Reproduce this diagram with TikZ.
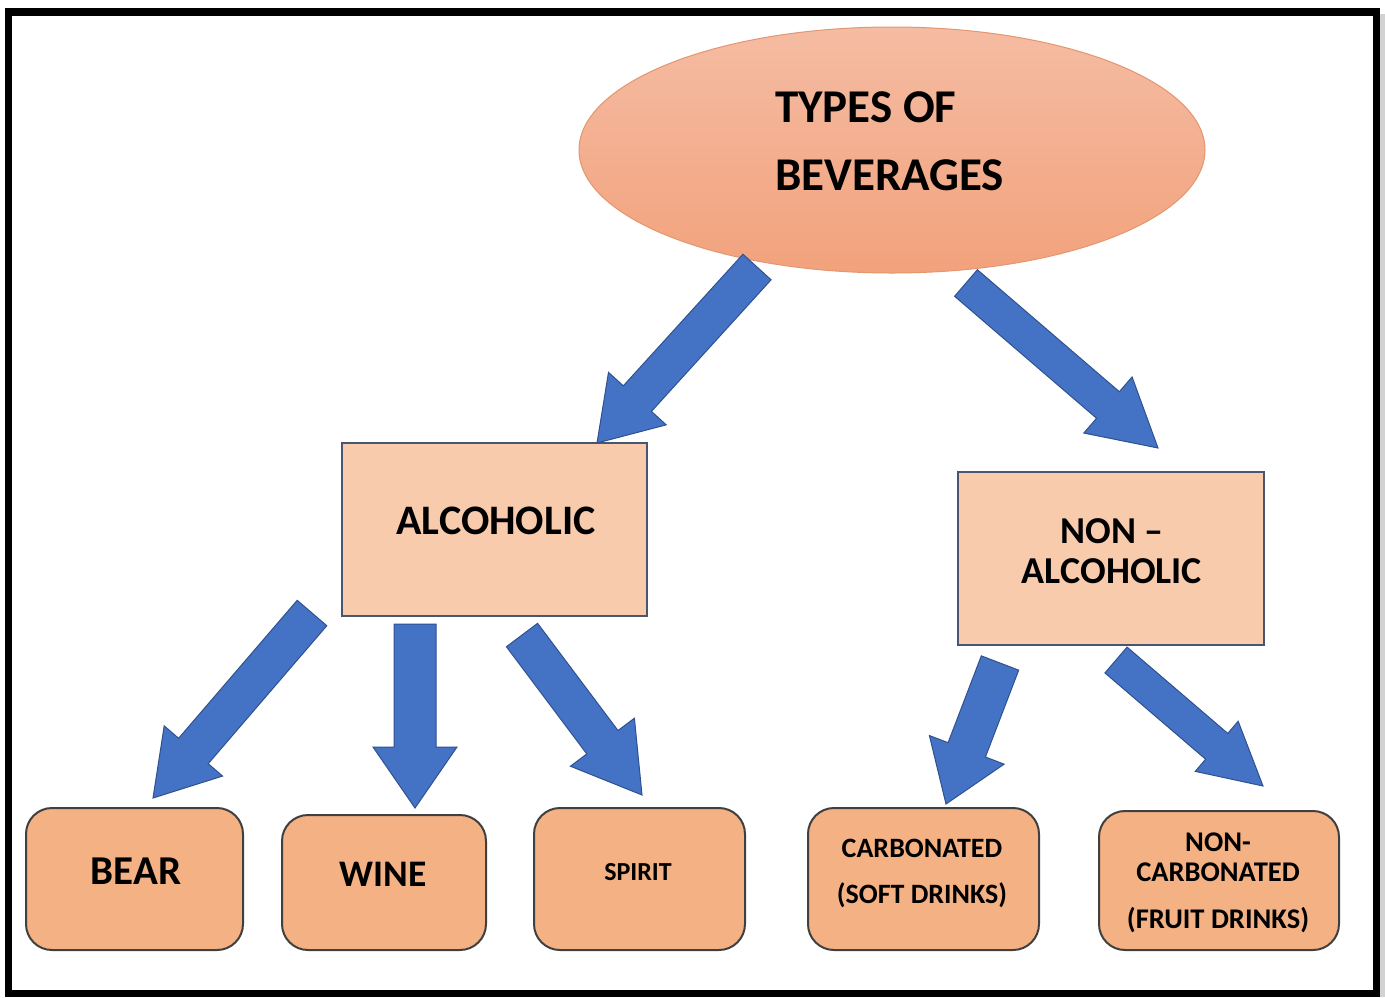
\documentclass[tikz,border=0pt]{standalone}
\usepackage{fontspec}
\setmainfont{Carlito}
\usetikzlibrary{calc,shapes.geometric}
\definecolor{arrowfill}{HTML}{4472C4}
\definecolor{arrowline}{HTML}{2F528F}
\definecolor{midfill}{HTML}{F8CBAD}
\definecolor{midline}{HTML}{4A5670}
\definecolor{leaffill}{HTML}{F4B183}
\definecolor{leafline}{HTML}{404040}
\definecolor{elltop}{HTML}{F5BCA3}
\definecolor{ellbot}{HTML}{F2A27C}
\definecolor{ellline}{HTML}{E39670}
\newcommand{\fsz}[1]{\fontsize{#1}{#1}\selectfont\bfseries}
\newcommand{\barrow}[5]{%
  \coordinate (tmpH) at ($(#2)!#5pt!(#1)$);
  \draw[blockarrow] ($(#1)!#3pt!90:(#2)$) -- ($(tmpH)!#3pt!90:(#2)$) -- ($(tmpH)!#4pt!90:(#2)$) -- (#2)
     -- ($(tmpH)!#4pt!-90:(#2)$) -- ($(tmpH)!#3pt!-90:(#2)$) -- ($(#1)!#3pt!-90:(#2)$) -- cycle;}
\tikzset{
  blockarrow/.style={fill=arrowfill, draw=arrowline, line width=1pt, line join=miter},
  midbox/.style={rectangle, fill=midfill, draw=midline, line width=2pt, inner sep=0pt, outer sep=0pt},
  leafbox/.style={rectangle, rounded corners=26pt, fill=leaffill, draw=leafline, line width=2pt, inner sep=0pt, outer sep=0pt},
  lbl/.style={inner sep=0pt, outer sep=0pt, text=black},
}
\begin{document}
\begin{tikzpicture}[x=1pt, y=-1pt]
\useasboundingbox (0,0) rectangle (1385,997);
\fill[white] (0,0) rectangle (1385,997);
% frame
\fill[gray!35] (1380,14) rectangle (1385,997);
\draw[line width=7.5pt, black] (8.5,12) rectangle (1376.5,993.5);

% root ellipse
\node[ellipse, minimum width=626pt, minimum height=246pt, inner sep=0pt,
      top color=elltop, bottom color=ellbot, draw=ellline, line width=1pt] (root) at (892,150) {};
\node[lbl, anchor=base west, font=\fsz{47}] (t1) at (775,122) {TYPES OF};
\node[lbl, anchor=base west, font=\fsz{47}] (t2) at (775,190) {BEVERAGES};

% middle boxes
\node[midbox, minimum width=305pt, minimum height=173pt] (alc) at (494.5,529.5) {};
\node[lbl, anchor=base, font=\fsz{42}] (alct) at (496,534) {ALCOHOLIC};
\node[midbox, minimum width=306pt, minimum height=173pt] (nalc) at (1111,558.5) {};
\node[lbl, anchor=base, font=\fsz{38}] (nalct1) at (1112,543) {NON –};
\node[lbl, anchor=base, font=\fsz{38}] (nalct2) at (1112,583) {ALCOHOLIC};

% leaf boxes
\node[leafbox, minimum width=217pt, minimum height=142pt] (bear) at (134.5,879) {};
\node[lbl, anchor=base, font=\fsz{41}] at (136,884) {BEAR};
\node[leafbox, minimum width=204pt, minimum height=135pt] (wine) at (384,882.5) {};
\node[lbl, anchor=base, font=\fsz{37.5}] at (383,886) {WINE};
\node[leafbox, minimum width=211pt, minimum height=142pt] (spirit) at (639.5,879) {};
\node[lbl, anchor=base, font=\fsz{26}] at (638,880) {SPIRIT};
\node[leafbox, minimum width=231pt, minimum height=142pt] (carb) at (923.5,879) {};
\node[lbl, anchor=base, font=\fsz{28}] at (922,857) {CARBONATED};
\node[lbl, anchor=base, font=\fsz{28}] at (922,903) {(SOFT DRINKS)};
\node[leafbox, minimum width=240pt, minimum height=139pt] (ncarb) at (1219,880.5) {};
\node[lbl, anchor=base, font=\fsz{28.5}] at (1218,851) {NON-};
\node[lbl, anchor=base, font=\fsz{28.5}] at (1218,881) {CARBONATED};
\node[lbl, anchor=base, font=\fsz{28.5}] at (1218,928) {(FRUIT DRINKS)};

% arrows
\coordinate (a1s) at (757,267);  \coordinate (a1e) at (597,443);
\coordinate (a2s) at (966,283);  \coordinate (a2e) at (1158,448);
\coordinate (a3s) at (312,613);  \coordinate (a3e) at (153,798);
\coordinate (a4s) at (415,624);  \coordinate (a4e) at (415,808);
\coordinate (a5s) at (522,635);  \coordinate (a5e) at (642,795);
\coordinate (a6s) at (1000,663); \coordinate (a6e) at (946,804);
\coordinate (a7s) at (1116,660); \coordinate (a7e) at (1263,786);
\barrow{a1s}{a1e}{19}{39}{60}
\barrow{a2s}{a2e}{17.5}{37}{66}
\barrow{a3s}{a3e}{19.5}{38.5}{62}
\barrow{a4s}{a4e}{21}{42}{61}
\barrow{a5s}{a5e}{19.5}{40}{66}
\barrow{a6s}{a6e}{20}{40}{58}
\barrow{a7s}{a7e}{17}{33}{61}
\end{tikzpicture}
\end{document}
